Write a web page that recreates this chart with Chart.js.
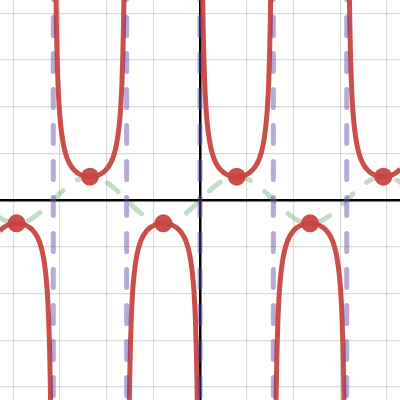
<!DOCTYPE html>
<html>
<head>
<meta charset="utf-8">
<script src="https://cdn.jsdelivr.net/npm/chart.js@4"></script>
<style>
  body { margin: 0; background: #fff; }
  #wrap { width: 400px; height: 400px; }
</style>
</head>
<body>
<div id="wrap"><canvas id="graph" width="400" height="400"></canvas></div>
<script>
// view window (2 units ~ 46.7px)
var xMin = -8.565, xMax = 8.565;
var yMin = -8.565, yMax = 8.565;

// asymptotes of csc x (multiples of pi)
var asymptotes = [-9.4248, -6.2832, -3.1416, 0, 3.1416, 6.2832];
// sign of each branch starting at that asymptote
var branchSign = [-1, 1, -1, 1, -1, 1];

// half of one csc branch: offset from left asymptote -> height
var cscOffset = [0.11, 0.13, 0.16, 0.2, 0.25, 0.3, 0.4, 0.5, 0.6, 0.7, 0.85, 1.0, 1.2, 1.37, 1.5708];
var cscHeight = [9.11, 7.71, 6.28, 5.03, 4.04, 3.38, 2.57, 2.09, 1.77, 1.55, 1.33, 1.19, 1.07, 1.02, 1.0];

// half of a sine hump: offset -> height
var sinOffset = [0, 0.2618, 0.5236, 0.7854, 1.0472, 1.309, 1.5708];
var sinHeight = [0, 0.26, 0.5, 0.71, 0.87, 0.97, 1.0];

// turning points of csc x
var extremaX = [-7.854, -4.712, -1.571, 1.571, 4.712, 7.854];
var extremaY = [-1, 1, -1, 1, -1, 1];

var PI = 3.14159;

function branch(start, sign, offs, hts) {
  var pts = [];
  offs.forEach(function(u, i) { pts.push({ x: start + u, y: sign * hts[i] }); });
  for (var i = offs.length - 2; i >= 0; i--) {
    pts.push({ x: start + PI - offs[i], y: sign * hts[i] });
  }
  return pts;
}

var datasets = [];

// dashed sin x underneath
var sinPts = [];
asymptotes.forEach(function(a, k) {
  var b = branch(a, branchSign[k], sinOffset, sinHeight);
  if (k > 0) b.shift();
  sinPts = sinPts.concat(b);
});
datasets.push({
  data: sinPts,
  showLine: true,
  borderColor: 'rgba(56,140,70,0.3)',
  borderWidth: 5,
  borderDash: [14, 18],
  borderCapStyle: 'round',
  pointRadius: 0,
  cubicInterpolationMode: 'monotone'
});

// csc x branches
asymptotes.forEach(function(a, k) {
  datasets.push({
    data: branch(a, branchSign[k], cscOffset, cscHeight),
    showLine: true,
    borderColor: 'rgba(199,68,64,0.95)',
    borderWidth: 5,
    pointRadius: 0,
    cubicInterpolationMode: 'monotone'
  });
});

// asymptotes
asymptotes.forEach(function(a) {
  datasets.push({
    data: [{ x: a, y: 9.36 }, { x: a, y: -9.5 }],
    showLine: true,
    borderColor: 'rgba(96,66,166,0.45)',
    borderWidth: 5,
    borderDash: [18, 18],
    borderCapStyle: 'round',
    pointRadius: 0
  });
});

// turning points
datasets.push({
  data: extremaX.map(function(x, i) { return { x: x, y: extremaY[i] }; }),
  showLine: false,
  pointRadius: 9,
  pointBackgroundColor: 'rgba(199,68,64,0.95)',
  pointBorderWidth: 0
});

// draw later datasets on top
datasets.forEach(function(d, i) { d.order = datasets.length - i; });

function gridColor(c) { return c.tick.value === 0 ? '#000' : 'rgba(0,0,0,0.14)'; }
function gridWidth(c) { return c.tick.value === 0 ? 2.5 : 1.2; }

new Chart(document.getElementById('graph'), {
  type: 'scatter',
  data: { datasets: datasets },
  options: {
    responsive: false,
    animation: false,
    layout: { padding: 0, autoPadding: false },
    plugins: { legend: { display: false }, tooltip: { enabled: false } },
    scales: {
      x: {
        min: xMin, max: xMax,
        border: { display: false },
        ticks: { display: false, stepSize: 2, includeBounds: false },
        grid: { drawTicks: false, color: gridColor, lineWidth: gridWidth }
      },
      y: {
        min: yMin, max: yMax,
        border: { display: false },
        ticks: { display: false, stepSize: 2, includeBounds: false },
        grid: { drawTicks: false, color: gridColor, lineWidth: gridWidth }
      }
    }
  }
});
</script>
</body>
</html>
